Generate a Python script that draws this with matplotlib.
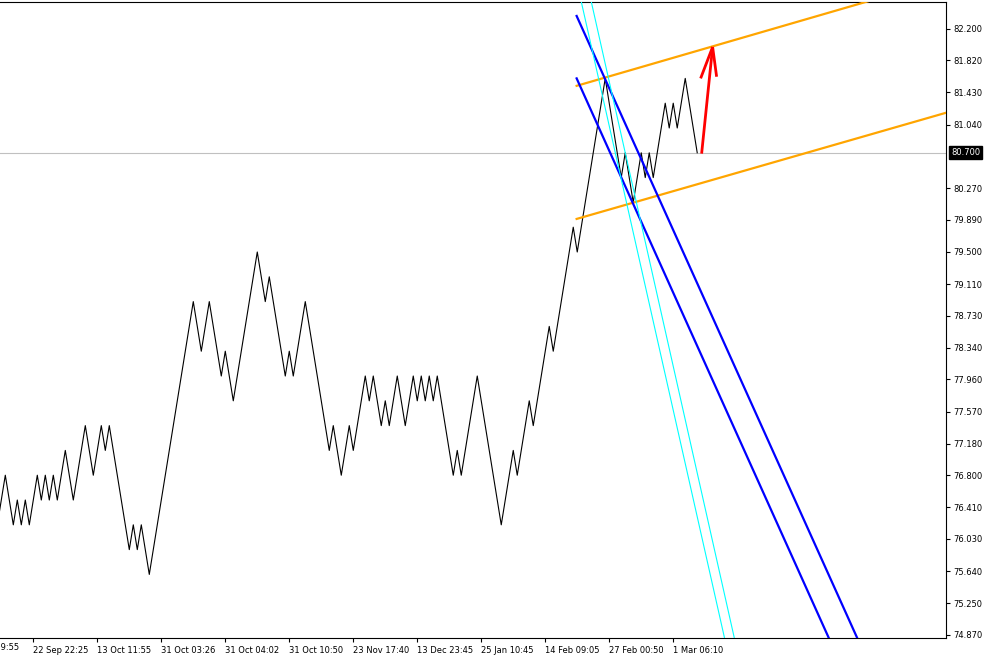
import matplotlib
matplotlib.use("Agg")
import matplotlib.pyplot as plt
import matplotlib.transforms as mtransforms

# Renko line: turning points (bar index, close price), box = 0.3
pivot_bars = [-1, 1, 3, 4, 5, 6, 7, 9, 10, 11, 12, 13, 14, 16, 18, 21, 23, 25, 26, 27,
              32, 33, 34, 35, 37, 48, 50, 52, 55, 56, 58, 64, 66, 67, 71, 72, 73, 76,
              82, 83, 85, 87, 88, 91, 92, 93, 95, 96, 97, 99, 101, 103, 104, 105, 106,
              107, 108, 109, 113, 114, 115, 119, 125, 128, 129, 132, 133, 137, 138,
              143, 144, 151, 155, 156, 158, 160, 161, 162, 163, 166, 167, 168, 169,
              171, 174]
pivot_prices = [76.2, 76.8, 76.2, 76.5, 76.2, 76.5, 76.2, 76.8, 76.5, 76.8, 76.5, 76.8,
                76.5, 77.1, 76.5, 77.4, 76.8, 77.4, 77.1, 77.4, 75.9, 76.2, 75.9, 76.2,
                75.6, 78.9, 78.3, 78.9, 78.0, 78.3, 77.7, 79.5, 78.9, 79.2, 78.0, 78.3,
                78.0, 78.9, 77.1, 77.4, 76.8, 77.4, 77.1, 78.0, 77.7, 78.0, 77.4, 77.7,
                77.4, 78.0, 77.4, 78.0, 77.7, 78.0, 77.7, 78.0, 77.7, 78.0, 76.8, 77.1,
                76.8, 78.0, 76.2, 77.1, 76.8, 77.7, 77.4, 78.6, 78.3, 79.8, 79.5, 81.6,
                80.4, 80.7, 80.1, 80.7, 80.4, 80.7, 80.4, 81.3, 81.0, 81.3, 81.0, 81.6,
                80.7]
last_price = 80.7

# time axis labels (the first one sits mostly off the left edge)
first_tick_bar = -8
first_tick_label = "4 Sep 09:55"
xtick_bars = [8, 24, 40, 56, 72, 88, 104, 120, 136, 152, 168]
xtick_labels = ["22 Sep 22:25", "13 Oct 11:55", "31 Oct 03:26", "31 Oct 04:02",
                "31 Oct 10:50", "23 Nov 17:40", "13 Dec 23:45", "25 Jan 10:45",
                "14 Feb 09:05", "27 Feb 00:50", "1 Mar 06:10"]

# price axis labels (80.66 is hidden under the price box)
ytick_values = [82.20, 81.82, 81.43, 81.04, 80.27, 79.89, 79.50, 79.11, 78.73,
                78.34, 77.96, 77.57, 77.18, 76.80, 76.41, 76.03, 75.64, 75.25, 74.87]

# drawn objects: two points each (bar, price)
orange_upper = [(143.85, 81.51), (215.1, 82.51)]
orange_lower = [(143.85, 79.90), (235.9, 81.18)]
blue_upper = [(143.85, 82.355), (213.85, 74.847)]
blue_lower = [(143.85, 81.60), (206.75, 74.847)]
cyan_left = [(145.1, 82.508), (180.75, 74.847)]
cyan_right = [(147.6, 82.508), (183.2, 74.847)]
arrow_shaft = [(175.1, 80.69), (177.85, 81.98)]
arrow_barb_left = [(174.85, 81.60), (177.85, 81.98)]
arrow_barb_right = [(178.85, 81.62), (177.85, 81.98)]


def ray(ax, pts, t0=0.0, t1=4.0, **kw):
    (x1, y1), (x2, y2) = pts
    xs = [x1 + t0 * (x2 - x1), x1 + t1 * (x2 - x1)]
    ys = [y1 + t0 * (y2 - y1), y1 + t1 * (y2 - y1)]
    ax.plot(xs, ys, **kw)


plt.rcParams['font.family'] = 'DejaVu Sans'

fig = plt.figure(figsize=(9.84, 6.55), dpi=100, facecolor='white')
ax = fig.add_axes([0.0, 17 / 655, 946 / 984, 636.5 / 655])

# current price line
ax.axhline(last_price, color='#c0c0c0', lw=0.8, zorder=1)

# renko line
ax.plot(pivot_bars, pivot_prices, color='black', lw=0.8, zorder=2)

# channels and lines
ray(ax, orange_upper, color='#ffa500', lw=1.6, zorder=3)
ray(ax, orange_lower, color='#ffa500', lw=1.6, zorder=3)
ray(ax, blue_upper, color='#0000ff', lw=1.6, zorder=3)
ray(ax, blue_lower, color='#0000ff', lw=1.6, zorder=3)
ray(ax, cyan_left, t0=-0.5, color='#00ffff', lw=0.8, zorder=3)
ray(ax, cyan_right, t0=-0.5, color='#00ffff', lw=0.8, zorder=3)

# red arrow
for seg in [arrow_shaft, arrow_barb_left, arrow_barb_right]:
    ax.plot([p[0] for p in seg], [p[1] for p in seg], color='#ff0000', lw=2.0,
            solid_capstyle='butt', zorder=4)

# axes frame
ax.spines['left'].set_visible(False)
for s in ['top', 'right', 'bottom']:
    ax.spines[s].set_color('black')
    ax.spines[s].set_linewidth(0.8)

ax.yaxis.tick_right()
ax.set_yticks(ytick_values)
ax.set_yticklabels(["%.3f" % v for v in ytick_values])
ax.set_xticks(xtick_bars)
ax.set_xticklabels(xtick_labels)
for lbl in ax.get_xticklabels():
    lbl.set_horizontalalignment('left')
ax.tick_params(axis='both', direction='out', length=3, width=0.8, labelsize=6,
               colors='black', pad=2)
ax.tick_params(axis='x', pad=3)

ax.set_xlim(-0.325, 236.2)
ax.set_ylim(74.831, 82.53)

# partly hidden first time label
xtrans = mtransforms.blended_transform_factory(ax.transData, ax.transAxes)
ax.text(first_tick_bar, -0.008, first_tick_label, transform=xtrans, fontsize=6,
        ha='left', va='top', clip_on=False)

# price label box
trans = mtransforms.blended_transform_factory(ax.transAxes, ax.transData)
ax.text(1.0055, last_price, "%.3f" % last_price, transform=trans, color='white',
        fontsize=6, va='center', ha='left', zorder=10, clip_on=False,
        bbox=dict(boxstyle='square,pad=0.25', facecolor='black', edgecolor='black'))

plt.savefig('out.png', dpi=100, facecolor='white')
